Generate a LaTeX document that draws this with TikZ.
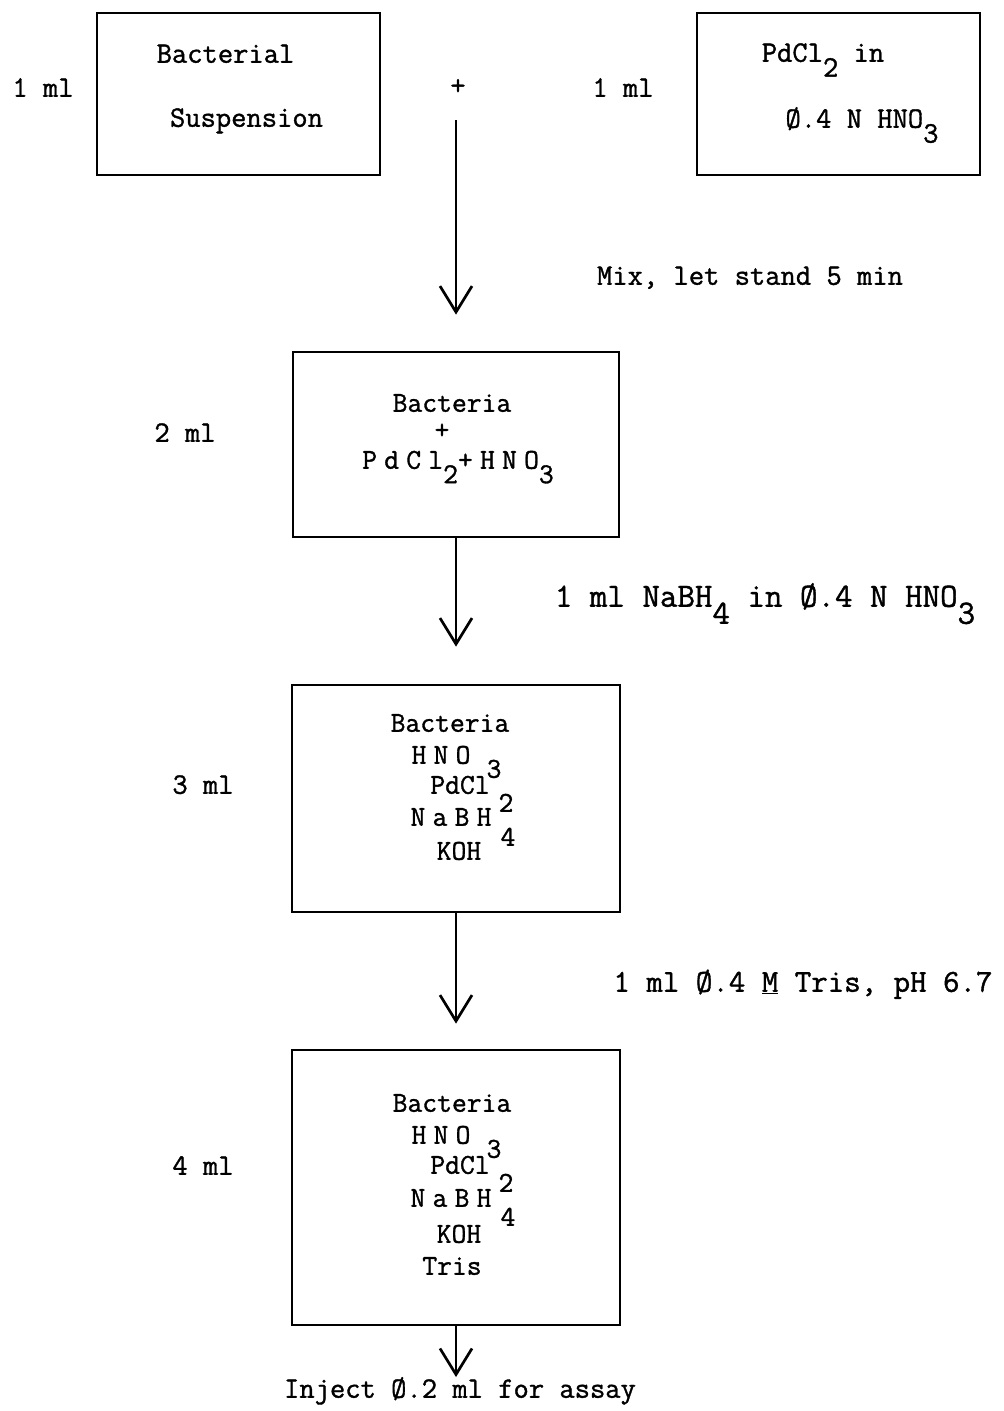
\documentclass[tikz,border=0pt]{standalone}
\usepackage{fontspec}
\setmainfont{Latin Modern Mono}[FakeBold=1.2]
\newfontfamily\spacedmono{Latin Modern Mono}[LetterSpace=25,FakeBold=1.2]
\usetikzlibrary{arrows.meta}
\newcommand\lowsub[1]{\raisebox{-0.5em}{#1}}
\begin{document}
\begin{tikzpicture}[x=1pt,y=-1pt,
  every node/.style={font=\fontsize{29.7}{34}\selectfont, inner sep=0pt},
  box/.style={draw, line width=2.7pt, inner sep=0pt},
  txt/.style={text height=0.55em, text depth=0pt},
  inbox/.style={txt, font=\fontsize{28.8}{33}\selectfont},
  spaced/.style={txt, font=\fontsize{28.8}{33}\spacedmono},
  flow/.style={line width=2.7pt, -{Straight Barb[length=26pt,width=32pt]}}]
\useasboundingbox (0,0) rectangle (1004,1411);

% top boxes
\node[box, minimum width=283pt, minimum height=162pt] (b1) at (238.5,94) {};
\node[box, minimum width=283pt, minimum height=162pt] (b2) at (838.5,94) {};
\node[txt] (b1a) at (225.5,60) {Bacterial};
\node[txt] (b1b) at (246.5,124) {Suspension};
\node[txt] (l1) at (43,94) {1 ml};
\node[txt] (plus) at (458,92) {+};
\node[txt] (l1b) at (623,94) {1 ml};
\node[txt] (b2a) at (823,59) {PdCl\lowsub{2} in};
\node[txt] (b2b) at (862,125) {Ø.4 N HNO\lowsub{3}};

% box 3
\node[box, minimum width=326pt, minimum height=185pt] (b3) at (456,444.5) {};
\node[inbox] (b3a) at (452,409) {Bacteria};
\node[inbox] (b3b) at (442,436) {+};
\node[spaced] (b3c) at (458,466) {PdCl\lowsub{2}+HNO\lowsub{3}};
\node[txt] (l2) at (185,439) {2 ml};

% box 4
\node[box, minimum width=328pt, minimum height=227pt] (b4) at (456,798.5) {};
\node[inbox] (b4a) at (450,729) {Bacteria};
\node[spaced] (b4b) at (441,761) {HNO};
\node[inbox] (b4b3) at (494,775) {3};
\node[inbox] (b4c) at (460,791) {PdCl};
\node[inbox] (b4c2) at (506,809) {2};
\node[spaced] (b4d) at (451,823) {NaBH};
\node[inbox] (b4d4) at (508,843) {4};
\node[inbox] (b4e) at (459,857) {KOH};
\node[txt] (l3) at (203,791) {3 ml};

% box 5
\node[box, minimum width=328pt, minimum height=275pt] (b5) at (456,1187.5) {};
\node[inbox] (b5a) at (452,1109) {Bacteria};
\node[spaced] (b5b) at (441,1141) {HNO};
\node[inbox] (b5b3) at (494,1155) {3};
\node[inbox] (b5c) at (460,1171) {PdCl};
\node[inbox] (b5c2) at (506,1189) {2};
\node[spaced] (b5d) at (451,1204) {NaBH};
\node[inbox] (b5d4) at (508,1223) {4};
\node[inbox] (b5e) at (459,1240) {KOH};
\node[inbox] (b5f) at (452,1272) {Tris};
\node[txt] (l4) at (203,1172) {4 ml};

% step labels
\node[txt] (m1) at (750,282) {Mix, let stand 5 min};
\node[txt, font=\fontsize{34}{38}\selectfont] (m2) at (765,604) {1 ml NaBH\lowsub{4} in Ø.4 N HNO\lowsub{3}};
\node[txt, font=\fontsize{32}{36}\selectfont] (m3) at (803,989) {1 ml Ø.4 \underline{M} Tris, pH 6.7};
\node[txt] (inj) at (460,1395) {Inject Ø.2 ml for assay};

% connectors
\coordinate (s1) at (456,120);
\draw[flow, shorten >=36pt] (s1) -- (b3.north);
\draw[flow, shorten >=37pt] (b3.south) -- (b4.north);
\draw[flow, shorten >=25pt] (b4.south) -- (b5.north);
\draw[flow, shorten >=15pt] (b5.south) -- (b5.south |- inj.north);
\end{tikzpicture}
\end{document}
